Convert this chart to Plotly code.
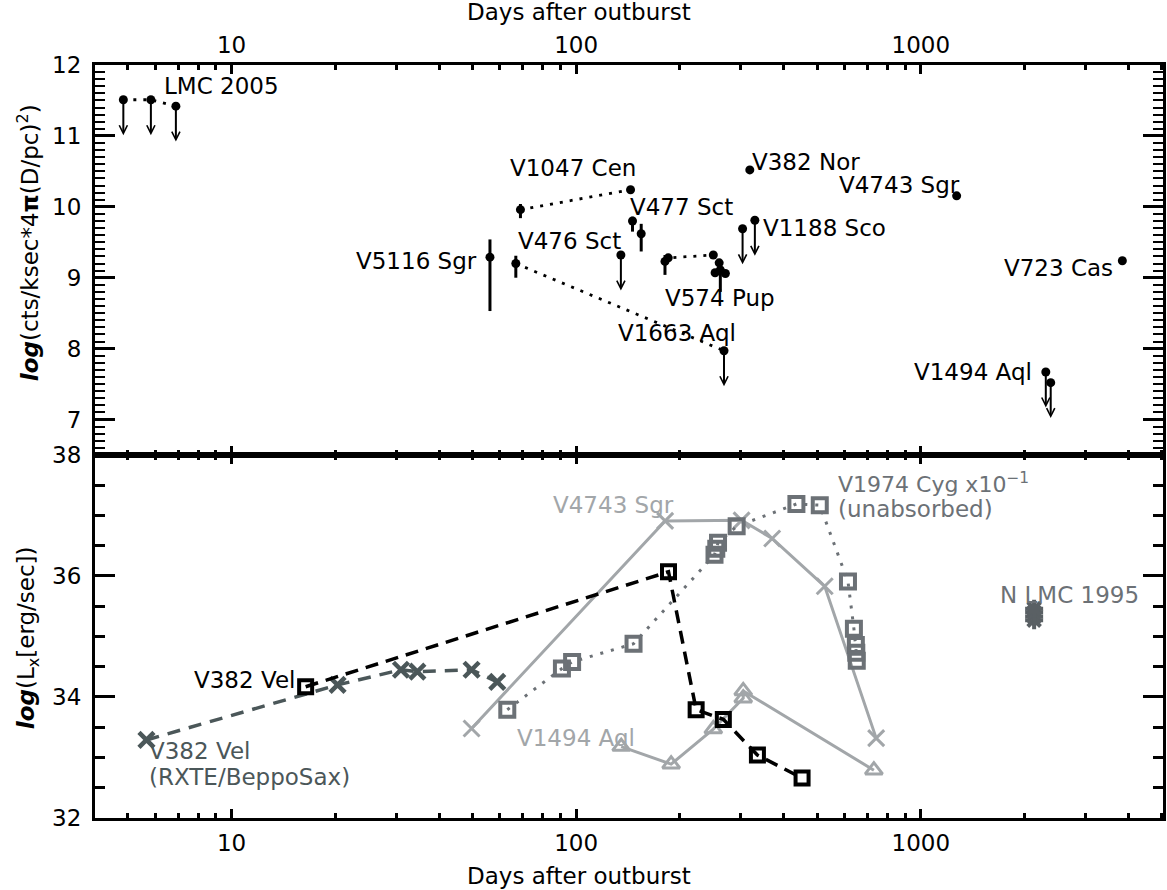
import numpy as np
import plotly.graph_objects as go

# ---------------- top panel data (days, log count-rate) ----------------
lmc05_days = [4.85, 5.83, 6.89]
lmc05_val = [11.51, 11.51, 11.42]

v1047_days = [68.9, 143.8]
v1047_val = [9.96, 10.24]
v1047_eup = [0.08, 0.0]
v1047_edn = [0.12, 0.0]

v477_days = [145.7, 154.4]
v477_val = [9.80, 9.62]
v477_eup = [0.06, 0.14]
v477_edn = [0.15, 0.25]

v5116_days = [56.2]
v5116_val = [9.29]
v5116_eup = [0.25]
v5116_edn = [0.76]

v1663_days = [66.8, 268.5]
v1663_val = [9.20, 7.97]
v1663_eup = [0.11, 0.0]
v1663_edn = [0.20, 0.0]
v1663_uplim = [False, True]

v476_days = [134.8]
v476_val = [9.32]

v574_days = [181, 185, 250, 260, 253, 262, 271]
v574_val = [9.23, 9.28, 9.32, 9.21, 9.07, 9.11, 9.06]
v574_eup = [0.09, 0, 0, 0, 0, 0, 0]
v574_edn = [0.19, 0, 0, 0, 0, 0.31, 0]

v1188_days = [304, 330]
v1188_val = [9.69, 9.81]

v382nor_days = [319]
v382nor_val = [10.52]

v4743top_days = [1271]
v4743top_val = [10.155]

v723_days = [3846]
v723_val = [9.24]

v1494top_days = [2306, 2383]
v1494top_val = [7.67, 7.52]

# ---------------- bottom panel data (days, log Lx) ----------------
v382vel_days = [16.4, 185.3, 222.9, 267.3, 335.7, 452.4]
v382vel_lx = [34.17, 36.07, 33.79, 33.63, 33.04, 32.66]

v382rxte_days = [5.66, 20.3, 31.0, 34.6, 49.7, 59.0]
v382rxte_lx = [33.29, 34.20, 34.45, 34.42, 34.45, 34.25]

v1974_days = [63.1, 90.9, 97.3, 146.7, 252, 255, 258, 292.2, 435.6, 509.2,
              614.8, 639.7, 648, 650, 652]
v1974_lx = [33.79, 34.47, 34.58, 34.88, 36.35, 36.45, 36.55, 36.82, 37.19,
            37.17, 35.91, 35.13, 34.86, 34.73, 34.60]

v4743_days = [49.7, 181.2, 302, 370.5, 526.3, 742.3]
v4743_lx = [33.48, 36.91, 36.92, 36.62, 35.83, 33.32]

v1494_days = [135.1, 188.6, 250, 305.3, 305.3, 731]
v1494_lx = [33.18, 32.89, 33.47, 33.98, 34.10, 32.79]

nlmc95_days = [2133, 2133, 2133, 2133]
nlmc95_lx = [35.27, 35.33, 35.40, 35.46]

# ---------------- axes tick labels ----------------
x_tickvals = [10, 100, 1000]
x_ticktext = ["10", "100", "1000"]

# ---------------- styling ----------------
FONT = "DejaVu Sans"
FS = 23
BLACK = "#000000"
SLATE = "#4b5759"
GRAY = "#6c7176"
LIGHT = "#a2a6a9"
NLMC = "#5a6064"
ARROW_LEN = 0.5

fig = go.Figure()

def top_series(days, vals, line=False, eup=None, edn=None):
    kw = {}
    if eup is not None:
        kw["error_y"] = dict(type="data", symmetric=False, array=eup,
                             arrayminus=edn, width=0, thickness=3, color=BLACK)
    fig.add_trace(go.Scatter(
        x=days, y=vals, xaxis="x", yaxis="y",
        mode="lines+markers" if line else "markers",
        line=dict(color=BLACK, width=2.8, dash="3px,7px"),
        marker=dict(symbol="circle", size=9, color=BLACK),
        showlegend=False, **kw))

top_series(lmc05_days, lmc05_val, line=True)
top_series(v1047_days, v1047_val, line=True, eup=v1047_eup, edn=v1047_edn)
top_series(v477_days, v477_val, eup=v477_eup, edn=v477_edn)
top_series(v5116_days, v5116_val, eup=v5116_eup, edn=v5116_edn)
top_series(v1663_days, v1663_val, line=True, eup=v1663_eup, edn=v1663_edn)
top_series(v476_days, v476_val)
top_series(v574_days, v574_val, line=True, eup=v574_eup, edn=v574_edn)
top_series(v1188_days, v1188_val)
top_series(v382nor_days, v382nor_val)
top_series(v4743top_days, v4743top_val)
top_series(v723_days, v723_val)
top_series(v1494top_days, v1494top_val)

# upper-limit arrows
uplims = []
uplims += list(zip(lmc05_days, lmc05_val))
uplims += [(d, v) for d, v, u in zip(v1663_days, v1663_val, v1663_uplim) if u]
uplims += list(zip(v476_days, v476_val))
uplims += list(zip(v1188_days, v1188_val))
uplims += list(zip(v1494top_days, v1494top_val))

annotations = []
for d, v in uplims:
    annotations.append(dict(
        x=np.log10(d), y=v - ARROW_LEN, ax=np.log10(d), ay=v,
        xref="x", yref="y", axref="x", ayref="y", text="",
        showarrow=True, arrowhead=5, arrowwidth=2, arrowsize=0.8,
        arrowcolor=BLACK, standoff=0, startstandoff=0))

# bottom panel traces
def bot_series(days, vals, color, symbol, size, mlw, dash, lw=3):
    fig.add_trace(go.Scatter(
        x=days, y=vals, xaxis="x2", yaxis="y2",
        mode="lines+markers" if dash is not None else "markers",
        line=dict(color=color, width=lw, dash=dash or "solid"),
        marker=dict(symbol=symbol, size=size, color=color,
                    line=dict(color=color, width=mlw)),
        showlegend=False))

bot_series(v4743_days, v4743_lx, LIGHT, "x-thin-open", 16, 3, "solid", 3)
bot_series(v1494_days, v1494_lx, LIGHT, "triangle-up-open", 15, 3, "solid", 3)
bot_series(v1974_days, v1974_lx, GRAY, "square-open", 14, 4, "3px,8px", 3)
bot_series(v382rxte_days, v382rxte_lx, SLATE, "x-thin-open", 15, 4.5, "13px,9px", 3.5)
bot_series(v382vel_days, v382vel_lx, BLACK, "square-open", 13, 4, "13px,8px", 3.5)
bot_series(nlmc95_days, nlmc95_lx, NLMC, "asterisk-open", 15, 4, None)

# text labels
def lab(text, d, v, panel, color=BLACK, xanchor="center", size=FS):
    annotations.append(dict(
        x=np.log10(d), y=v, xref="x" if panel == 1 else "x2",
        yref="y" if panel == 1 else "y2", text=text, showarrow=False,
        xanchor=xanchor, yanchor="middle",
        font=dict(family=FONT, size=size, color=color)))

lab("LMC 2005", 6.27, 11.70, 1, xanchor="left")
lab("V1047 Cen", 97.7, 10.545, 1)
lab("V477 Sct", 202, 10.004, 1)
lab("V476 Sct", 95.4, 9.521, 1)
lab("V5116 Sgr", 52.2, 9.23, 1, xanchor="right")
lab("V574 Pup", 262, 8.714, 1)
lab("V1663 Aql", 196.3, 8.221, 1)
lab("V382 Nor", 320, 10.638, 1, xanchor="left")
lab("V4743 Sgr", 866.6, 10.31, 1)
lab("V1188 Sco", 344.5, 9.70, 1, xanchor="left")
lab("V723 Cas", 3668, 9.137, 1, xanchor="right")
lab("V1494 Aql", 2138, 7.672, 1, xanchor="right")

lab("V382 Vel", 15.5, 34.28, 2, BLACK, xanchor="right")
lab("V382 Vel", 5.67, 33.10, 2, SLATE, xanchor="left")
lab("(RXTE/BeppoSax)", 5.67, 32.68, 2, SLATE, xanchor="left")
lab("V4743 Sgr", 128.7, 37.17, 2, LIGHT)
lab("V1494 Aql", 100, 33.32, 2, LIGHT)
lab("V1974 Cyg x10<sup>\u22121</sup>", 568.8, 37.53, 2, GRAY, xanchor="left", size=22)
lab("(unabsorbed)", 568.8, 37.11, 2, GRAY, xanchor="left")
lab("N LMC 1995", 2697, 35.69, 2, GRAY)

# axis titles
title_font = dict(family=FONT, size=FS, color=BLACK)
annotations += [
    dict(text="Days after outburst", x=0.4529, y=1.0704, xref="paper", yref="paper",
         showarrow=False, xanchor="center", yanchor="middle", font=title_font),
    dict(text="Days after outburst", x=0.4529, y=-0.077, xref="paper", yref="paper",
         showarrow=False, xanchor="center", yanchor="middle", font=title_font),
    dict(text="<b><i>log</i></b>(cts/ksec*4<b>\u03c0</b>(D/pc)<sup>2</sup>)",
         x=-0.0626, y=0.7636, xref="paper", yref="paper", textangle=-90,
         showarrow=False, xanchor="center", yanchor="middle", font=title_font),
    dict(text="<b><i>log</i></b>(L<sub>x</sub>[erg/sec])",
         x=-0.0626, y=0.239, xref="paper", yref="paper", textangle=-90,
         showarrow=False, xanchor="center", yanchor="middle", font=title_font),
]

minor_x = [m * 10 ** e for e in range(0, 4) for m in range(2, 10)]
xrange = [0.6035, 3.703]

common_x = dict(type="log", range=xrange, showgrid=False, zeroline=False,
                showline=True, linewidth=3, linecolor=BLACK, mirror="allticks",
                ticks="inside", ticklen=9, tickwidth=2.5, tickcolor=BLACK,
                tickvals=x_tickvals, ticktext=x_ticktext,
                tickfont=dict(family=FONT, size=FS, color=BLACK),
                minor=dict(tickvals=minor_x, ticks="inside", ticklen=5,
                           tickwidth=2.5, tickcolor=BLACK, showgrid=False))
common_y = dict(showgrid=False, zeroline=False, showline=True, linewidth=3,
                linecolor=BLACK, mirror="allticks", ticks="inside", ticklen=20,
                tickwidth=2.5, tickcolor=BLACK,
                tickfont=dict(family=FONT, size=FS, color=BLACK))

fig.update_layout(
    width=1167, height=890,
    margin=dict(l=95, r=1, t=65, b=72),
    paper_bgcolor="white", plot_bgcolor="white",
    xaxis=dict(**common_x, domain=[0, 1], anchor="y", side="top",
               ticklabelstandoff=0),
    xaxis2=dict(**common_x, domain=[0, 1], anchor="y2", side="bottom",
                ticklabelstandoff=2),
    yaxis=dict(**common_y, domain=[0.4821, 1], anchor="x", range=[6.5, 12],
               tickvals=[7, 8, 9, 10, 11, 12], ticklabelstandoff=6,
               minor=dict(dtick=0.1, ticks="inside", ticklen=10, tickwidth=2,
                          tickcolor=BLACK, showgrid=False)),
    yaxis2=dict(**common_y, domain=[0, 0.4821], anchor="x2", range=[32, 38],
                tickvals=[32, 34, 36, 38], ticklabelstandoff=6,
                minor=dict(dtick=0.5, ticks="inside", ticklen=10, tickwidth=2.5,
                           tickcolor=BLACK, showgrid=False)),
    annotations=annotations,
    showlegend=False,
)

fig.write_html("out.html")
